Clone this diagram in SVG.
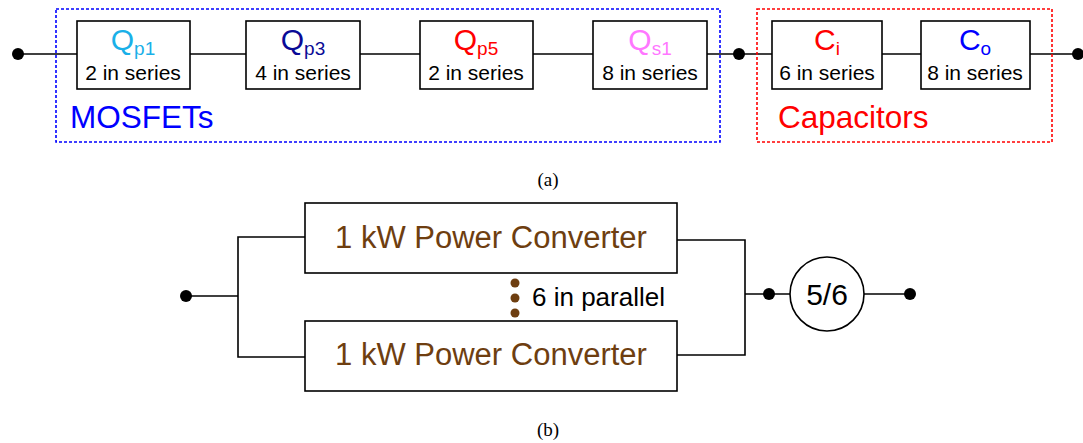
<svg xmlns="http://www.w3.org/2000/svg" width="1083" height="443" viewBox="0 0 1083 443">
<style>
.box{fill:#fff;stroke:#000;stroke-width:1.6}
.wire{fill:none;stroke:#000;stroke-width:1.6}
.dot{fill:#000}
.bdot{fill:#6e3e10}
.t{font-family:"Liberation Sans",Arial,sans-serif}
.ttl{font-size:30px;text-anchor:middle}
.sub{font-size:19px}
.cnt{font-size:21px;text-anchor:middle;fill:#000}
.cap{font-family:"Liberation Serif","Times New Roman",serif;font-size:19px;text-anchor:middle;fill:#000}
.conv{font-size:31px;text-anchor:middle;fill:#6e3e10}
</style>
<rect width="1083" height="443" fill="#fff"/>

<g id="connectors">
<line class="wire" x1="18" y1="54" x2="77" y2="54"/>
<line class="wire" x1="190" y1="54" x2="246" y2="54"/>
<line class="wire" x1="360" y1="54" x2="420" y2="54"/>
<line class="wire" x1="533" y1="54" x2="593" y2="54"/>
<line class="wire" x1="707" y1="54" x2="772" y2="54"/>
<line class="wire" x1="882" y1="54" x2="921" y2="54"/>
<line class="wire" x1="1030" y1="54" x2="1078" y2="54"/>
<circle class="dot" cx="18" cy="54" r="6"/>
<circle class="dot" cx="739" cy="54" r="6"/>
<circle class="dot" cx="1078" cy="54" r="6"/>

<polyline class="wire" points="186,296 238,296"/>
<polyline class="wire" points="305,237 238,237 238,357 305,357"/>
<polyline class="wire" points="677,240 745,240 745,355 677,355"/>
<line class="wire" x1="745" y1="294" x2="790" y2="294"/>
<line class="wire" x1="864" y1="294" x2="910" y2="294"/>
<circle class="dot" cx="186" cy="296" r="6"/>
<circle class="dot" cx="769" cy="294" r="6"/>
<circle class="dot" cx="910" cy="294" r="6"/>
</g>

<g id="mosfets">
<rect x="56" y="9" width="664" height="133" fill="none" stroke="#0000ff" stroke-width="1.6" stroke-dasharray="3,2"/>
<text class="t" x="70" y="128" font-size="31.5" fill="#0000ff">MOSFETs</text>
</g>
<g id="capacitors">
<rect x="757" y="9" width="295" height="133" fill="none" stroke="#ff0000" stroke-width="1.6" stroke-dasharray="3,2"/>
<text class="t" x="778" y="128" font-size="31.5" fill="#ff0000">Capacitors</text>
</g>

<g id="Qp1">
<rect class="box" x="77" y="21" width="113" height="68"/>
<text class="t ttl" x="133" y="50" fill="#1ab0e8">Q<tspan class="sub" dy="5">p1</tspan></text>
<text class="t cnt" x="133" y="80">2 in series</text>
</g>
<g id="Qp3">
<rect class="box" x="246" y="21" width="114" height="68"/>
<text class="t ttl" x="303" y="50" fill="#0a0a96">Q<tspan class="sub" dy="5">p3</tspan></text>
<text class="t cnt" x="303" y="80">4 in series</text>
</g>
<g id="Qp5">
<rect class="box" x="420" y="21" width="113" height="68"/>
<text class="t ttl" x="476" y="50" fill="#ff0000">Q<tspan class="sub" dy="5">p5</tspan></text>
<text class="t cnt" x="476" y="80">2 in series</text>
</g>
<g id="Qs1">
<rect class="box" x="593" y="21" width="114" height="68"/>
<text class="t ttl" x="650" y="50" fill="#ff77ff">Q<tspan class="sub" dy="5">s1</tspan></text>
<text class="t cnt" x="650" y="80">8 in series</text>
</g>
<g id="Ci">
<rect class="box" x="772" y="21" width="110" height="68"/>
<text class="t ttl" x="827" y="50" fill="#ff0000">C<tspan class="sub" dy="5">i</tspan></text>
<text class="t cnt" x="827" y="80">6 in series</text>
</g>
<g id="Co">
<rect class="box" x="921" y="21" width="109" height="68"/>
<text class="t ttl" x="975" y="50" fill="#0000ff">C<tspan class="sub" dy="5">o</tspan></text>
<text class="t cnt" x="975" y="80">8 in series</text>
</g>
<text class="cap" x="548" y="186">(a)</text>

<g id="conv1">
<rect class="box" x="305" y="203" width="372" height="70"/>
<text class="t conv" x="491" y="248">1 kW Power Converter</text>
</g>
<g id="conv6">
<rect class="box" x="305" y="321" width="372" height="70"/>
<text class="t conv" x="491" y="365">1 kW Power Converter</text>
</g>
<g id="parallel">
<circle class="bdot" cx="515" cy="283" r="4.5"/>
<circle class="bdot" cx="515" cy="298" r="4.5"/>
<circle class="bdot" cx="515" cy="313" r="4.5"/>
<text class="t" x="532" y="306" font-size="26" fill="#000">6 in parallel</text>
</g>
<g id="ratio">
<circle cx="827" cy="294" r="37" fill="#fff" stroke="#000" stroke-width="1.6"/>
<text class="t" x="827" y="305" font-size="30" text-anchor="middle" fill="#000">5/6</text>
</g>
<text class="cap" x="548" y="436">(b)</text>
</svg>
